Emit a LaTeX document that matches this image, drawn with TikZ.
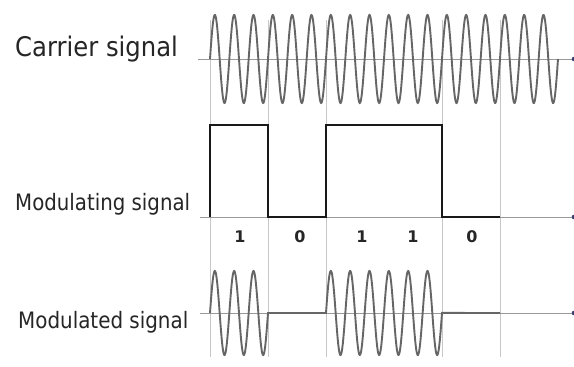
\documentclass[tikz,border=0pt]{standalone}
\usepackage{fontspec}
\setmainfont{DejaVu Sans}
\definecolor{txt}{HTML}{262626}
\definecolor{endc}{HTML}{3A3F70}
\begin{document}
\begin{tikzpicture}[x=1pt,y=-1pt,
  lbl/.style={anchor=base west, inner sep=0pt, text=txt},
  bitlbl/.style={inner sep=0pt, font=\bfseries\fontsize{16}{16}\selectfont, text=txt},
  gridline/.style={draw=black!22, line width=0.8pt},
  axisline/.style={draw=black!40, line width=0.8pt},
  wave/.style={draw=black!60, line width=1.9pt},
  modsig/.style={draw=black!90, line width=2.8pt, line join=miter}]
\useasboundingbox (0,0) rectangle (574,367);
\fill[white] (0,0) rectangle (574,367);
% grid lines
\foreach \gx/\nm in {210/a,268/b,326/c,442/d,500/e}{
  \coordinate (gt\nm) at (\gx,20);
  \coordinate (gb\nm) at (\gx,357);
  \draw[gridline] (gt\nm) -- (gb\nm);
}
% axes
\coordinate (ca0) at (198,59);  \coordinate (ca1) at (574,59);
\coordinate (ma0) at (200,217); \coordinate (ma1) at (574,217);
\coordinate (da0) at (200,313); \coordinate (da1) at (574,313);
\draw[axisline] (ca0) -- (ca1);
\draw[axisline] (ma0) -- (ma1);
\draw[axisline] (da0) -- (da1);
\fill[endc] (ca1) circle (2.3);
\fill[endc] (ma1) circle (2.3);
\fill[endc] (da1) circle (2.3);
% labels
\node[lbl] (carrier) at (15,56) {\fontsize{27}{27}\selectfont\scalebox{0.9}[1]{Carrier signal}};
\node[lbl] (modulating) at (15,210) {\fontsize{22.6}{22.6}\selectfont\scalebox{0.875}[1]{Modulating signal}};
\node[lbl] (modulated) at (18,328) {\fontsize{22.6}{22.6}\selectfont\scalebox{0.88}[1]{Modulated signal}};
% carrier
\draw[wave] plot[domain=210:558, samples=900] (\x,{59-44*sin(18.6213*(\x-210))});
% modulating signal
\draw[modsig] (210,217) -- (210,125) -- (268,125) -- (268,217) -- (326,217) -- (326,125) -- (442,125) -- (442,217) -- (500,217);
% bits
\node[bitlbl] (b1) at (240,237) {1};
\node[bitlbl] (b2) at (300,237) {0};
\node[bitlbl] (b3) at (362,237) {1};
\node[bitlbl] (b4) at (413,237) {1};
\node[bitlbl] (b5) at (472,237) {0};
% modulated signal
\draw[wave] plot[domain=210:268, samples=160] (\x,{313-42*sin(18.6213*(\x-210))})
  -- (326,313)
  -- plot[domain=326:442, samples=320] (\x,{313-42*sin(18.6213*(\x-210))})
  -- (500,313);
\end{tikzpicture}
\end{document}
